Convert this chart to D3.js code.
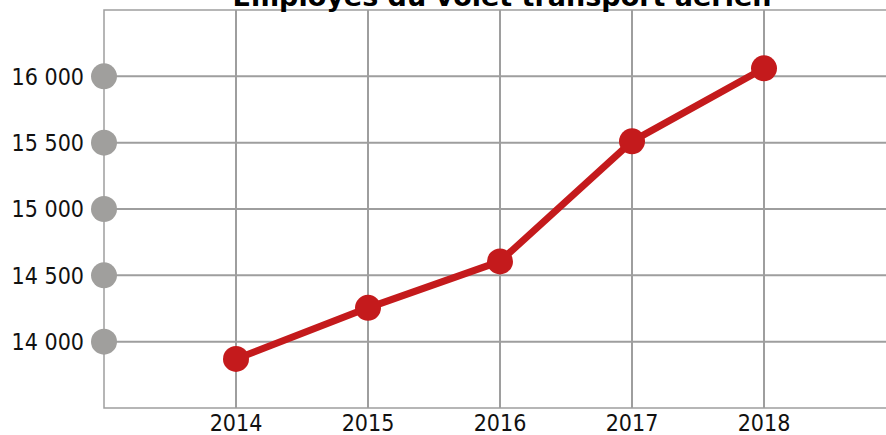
<!DOCTYPE html>
<html><head><meta charset="utf-8">
<script src="https://cdn.jsdelivr.net/npm/d3@7"></script>
<style>body{margin:0;background:#fff}svg{display:block}</style>
</head><body>
<script>
const title = "Employés du volet transport aérien";
const years = [2014, 2015, 2016, 2017, 2018];
const employees = [13870, 14255, 14605, 15510, 16060];
const yTicks = [14000, 14500, 15000, 15500, 16000];

(function () {
const W = 886, H = 435;
const svg = d3.select("body").append("svg").attr("width", W).attr("height", H);
const mLeft = 104, mTop = 10, mBottom = 408, mRight = 886;

const x = d3.scaleLinear().domain([2013, 2018]).range([mLeft, 764]);
const y = d3.scaleLinear().domain([13500, 16500]).range([mBottom, mTop]);
const fmt = v => d3.format(",")(v).replace(/,/g, " ");
const grid = "#9e9e9e";
const font = "'DejaVu Sans Condensed', 'DejaVu Sans', sans-serif";

// frame
svg.append("rect").attr("x", mLeft).attr("y", mTop).attr("width", mRight - mLeft + 10).attr("height", mBottom - mTop)
  .attr("fill", "none").attr("stroke", grid).attr("stroke-width", 1.5);

// grid
const g = svg.append("g");
g.selectAll(".hg").data(yTicks).join("line")
  .attr("x1", mLeft).attr("x2", mRight).attr("y1", d => y(d)).attr("y2", d => y(d))
  .attr("stroke", grid).attr("stroke-width", 2);
g.selectAll(".vg").data(years).join("line")
  .attr("y1", mTop).attr("y2", mBottom).attr("x1", d => x(d)).attr("x2", d => x(d))
  .attr("stroke", grid).attr("stroke-width", 2);

// y axis dots + labels
svg.selectAll(".yd").data(yTicks).join("circle")
  .attr("cx", mLeft).attr("cy", d => y(d)).attr("r", 13).attr("fill", "#a09f9d");
svg.selectAll(".yl").data(yTicks).join("text")
  .attr("x", 84).attr("y", d => y(d)).attr("dy", "0.36em").attr("text-anchor", "end")
  .attr("font-family", font).attr("font-size", 23).attr("fill", "#111").text(fmt);

// x labels
svg.selectAll(".xl").data(years).join("text")
  .attr("x", d => x(d)).attr("y", 431).attr("text-anchor", "middle")
  .attr("font-family", font).attr("font-size", 23).attr("fill", "#111").text(d => d);

// line
const pts = years.map((yr, i) => [yr, employees[i]]);
svg.append("path").datum(pts)
  .attr("d", d3.line().x(d => x(d[0])).y(d => y(d[1])))
  .attr("fill", "none").attr("stroke", "#c41a1c").attr("stroke-width", 7).attr("stroke-linejoin", "round");
svg.selectAll(".pt").data(pts).join("circle")
  .attr("cx", d => x(d[0])).attr("cy", d => y(d[1])).attr("r", 13).attr("fill", "#c41a1c");

// title
svg.append("text").attr("x", 502).attr("y", 6).attr("text-anchor", "middle")
  .attr("font-family", "'DejaVu Sans', sans-serif").attr("font-weight", "bold").attr("font-size", 27)
  .attr("fill", "#000").text(title);
})();
</script>
</body></html>
